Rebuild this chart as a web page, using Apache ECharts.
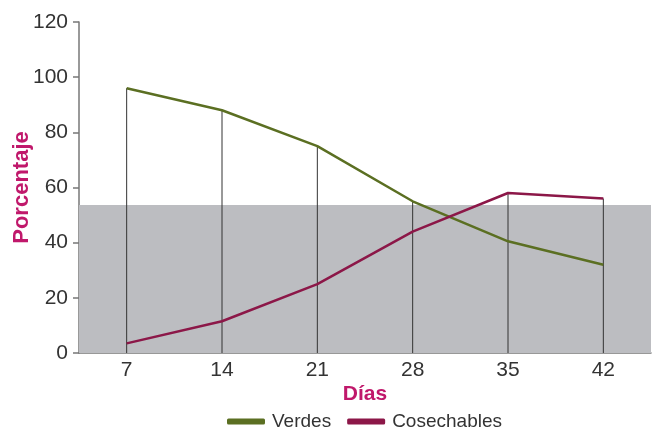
<!DOCTYPE html>
<html><head><meta charset="utf-8">
<script src="https://cdn.jsdelivr.net/npm/echarts@6/dist/echarts.min.js"></script>
<style>html,body{margin:0;padding:0;background:#fff}#c{width:652px;height:430px}</style>
</head><body><div id="c"></div>
<script>
var categories = ['7','14','21','28','35','42'];
var verdes = [96, 88, 75, 55, 40.5, 32];
var cosechables = [3.5, 11.5, 25, 44, 58, 56];
var yTicks = [0, 20, 40, 60, 80, 100, 120];
var bandTop = 53.7;

var dropTops = categories.map(function(c, i){ return [i, Math.max(verdes[i], cosechables[i])]; });
var font = 'Liberation Sans';
var chart = echarts.init(document.getElementById('c'));
chart.setOption({
  animation: false,
  grid: {left: 79, right: 1, top: 22, bottom: 77, containLabel: false, outerBoundsMode: 'none'},
  legend: {
    top: 407, left: 222, itemWidth: 38, itemHeight: 6, itemGap: 16,
    textStyle: {fontFamily: font, fontSize: 19, color: '#333', padding: [0, 0, 0, 2]},
    data: [{name: 'Verdes', icon: 'roundRect'}, {name: 'Cosechables', icon: 'roundRect'}]
  },
  xAxis: {
    type: 'category', data: categories, boundaryGap: true,
    name: 'Días', nameLocation: 'middle', nameGap: 31, nameMoveOverlap: false,
    nameTextStyle: {fontFamily: font, fontSize: 21, fontWeight: 'bold', color: '#c0186b'},
    axisLine: {lineStyle: {color: '#777', width: 1.5}},
    axisTick: {show: false},
    axisLabel: {fontFamily: font, fontSize: 21, color: '#333', margin: 7}
  },
  yAxis: {
    type: 'value', min: 0, max: 120, interval: 20,
    name: 'Porcentaje', nameLocation: 'middle', nameGap: 46, nameMoveOverlap: false,
    nameTextStyle: {fontFamily: font, fontSize: 22, fontWeight: 'bold', color: '#c0186b'},
    axisLine: {show: true, lineStyle: {color: '#777', width: 1.5}},
    axisTick: {show: true, length: 6, lineStyle: {color: '#777', width: 1.5}},
    axisLabel: {fontFamily: font, fontSize: 21, color: '#333', margin: 11},
    splitLine: {show: false}
  },
  series: [
    {
      type: 'custom', name: 'drops', silent: true, z: 3,
      data: dropTops,
      renderItem: function(params, api){
        var top = api.coord([api.value(0), api.value(1)]);
        var bot = api.coord([api.value(0), 0]);
        return {type: 'line', shape: {x1: top[0], y1: top[1], x2: bot[0], y2: bot[1]},
                style: {stroke: '#333', lineWidth: 1}};
      },
      markArea: {
        silent: true,
        itemStyle: {color: '#bcbdc1'},
        data: [[{yAxis: 0}, {yAxis: bandTop}]]
      }
    },
    {
      type: 'line', name: 'Verdes', data: verdes, symbol: 'none', z: 4,
      lineStyle: {color: '#5b6f22', width: 2.5}, itemStyle: {color: '#5b6f22'}
    },
    {
      type: 'line', name: 'Cosechables', data: cosechables, symbol: 'none', z: 4,
      lineStyle: {color: '#8c1748', width: 2.5}, itemStyle: {color: '#8c1748'}
    }
  ]
});
</script></body></html>
